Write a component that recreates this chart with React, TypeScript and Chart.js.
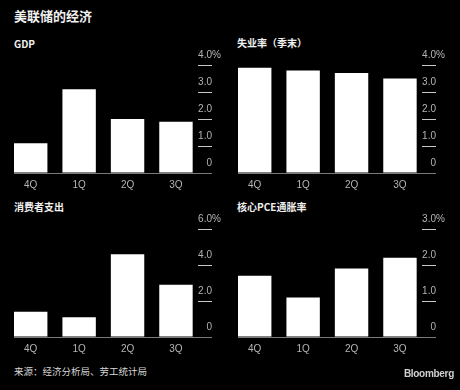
import React, { useEffect, useRef } from 'react';
import { Chart, registerables } from 'chart.js';

Chart.register(...registerables);

const categories = ['4Q', '1Q', '2Q', '3Q'];

const gdpValues = [1.1, 3.1, 2.0, 1.9];
const unemploymentValues = [3.9, 3.8, 3.7, 3.5];
const spendingValues = [1.4, 1.1, 4.6, 2.9];
const corePceValues = [1.7, 1.1, 1.9, 2.2];

const ticksOneStep = [0, 1, 2, 3, 4];
const ticksOneStepLabels = ['0', '1.0', '2.0', '3.0', '4.0'];
const ticksSpending = [0, 2, 4, 6];
const ticksSpendingLabels = ['0', '2.0', '4.0', '6.0'];
const ticksPce = [0, 1, 2, 3];
const ticksPceLabels = ['0', '1.0', '2.0', '3.0'];

const unitSuffix = '%';

const TICK_FONT = { family: '"Liberation Sans", Arial, sans-serif', size: 10 };
const TICK_COLOR = '#b4b4b4';
const CJK = '"Noto Sans CJK SC", "Noto Sans", sans-serif';

const suffixPlugin = {
  id: 'unitSuffix',
  afterDraw(chart: any) {
    const s = chart.scales.y;
    const ctx = chart.ctx;
    const y = s.getPixelForValue(s.max) - 10;
    ctx.save();
    ctx.fillStyle = TICK_COLOR;
    ctx.font = `${TICK_FONT.size}px ${TICK_FONT.family}`;
    ctx.textAlign = 'left';
    ctx.textBaseline = 'middle';
    ctx.fillText(unitSuffix, s.right, y);
    ctx.restore();
  },
};

type PanelProps = {
  values: number[];
  tickValues: number[];
  tickLabels: string[];
  left: number;
  top: number;
};

function Panel({ values, tickValues, tickLabels, left, top }: PanelProps) {
  const ref = useRef<HTMLCanvasElement | null>(null);
  useEffect(() => {
    if (!ref.current) return;
    const yMax = tickValues[tickValues.length - 1];
    const chart = new Chart(ref.current, {
      type: 'bar',
      data: {
        datasets: [
          {
            data: values.map((v, i) => ({ x: i, y: v })),
            backgroundColor: '#ffffff',
            borderWidth: 0,
            barPercentage: 0.69,
            categoryPercentage: 1,
          } as any,
        ],
      },
      options: {
        animation: false,
        responsive: false,
        maintainAspectRatio: false,
        layout: { padding: { left: 14, right: 18, top: 25, bottom: 5 } },
        plugins: { legend: { display: false }, tooltip: { enabled: false } },
        scales: {
          x: {
            type: 'linear',
            min: -0.345,
            max: 3.455,
            offset: false,
            afterBuildTicks: (s: any) => {
              s.ticks = categories.map((_, i) => ({ value: i }));
            },
            afterFit: (s: any) => {
              s.height = 22;
            },
            grid: { display: false, drawTicks: false, offset: false },
            border: { display: true, color: '#7a7a7a', width: 1 },
            ticks: {
              color: TICK_COLOR,
              font: TICK_FONT,
              padding: 6,
              maxRotation: 0,
              autoSkip: false,
              callback: (v: any) => categories[Math.round(Number(v))] ?? '',
            },
          },
          y: {
            type: 'linear',
            position: 'right',
            min: 0,
            max: yMax,
            afterBuildTicks: (s: any) => {
              s.ticks = tickValues.map((v) => ({ value: v }));
            },
            afterFit: (s: any) => {
              s.width = 14;
            },
            grid: {
              drawOnChartArea: false,
              drawTicks: true,
              tickLength: 14,
              lineWidth: 1,
              color: (c: any) => (c.tick && c.tick.value === 0 ? '#7a7a7a' : '#c8c8c8'),
            },
            border: { display: false },
            ticks: {
              color: TICK_COLOR,
              font: TICK_FONT,
              crossAlign: 'far',
              labelOffset: -10,
              callback: (_v: any, i: number) => tickLabels[i],
            },
          },
        } as any,
      },
      plugins: [suffixPlugin],
    });
    return () => chart.destroy();
  }, []);
  return (
    <canvas
      ref={ref}
      width={230}
      height={160}
      style={{ position: 'absolute', left, top, width: 230, height: 160 }}
    />
  );
}

const textBase: React.CSSProperties = {
  position: 'absolute',
  whiteSpace: 'nowrap',
  fontFamily: CJK,
};

export default function App() {
  return (
    <div
      style={{
        position: 'absolute',
        left: 0,
        top: 0,
        width: 460,
        height: 390,
        background: '#000',
        overflow: 'hidden',
      }}
    >
      <div style={{ ...textBase, left: 14, top: 8, fontSize: 13, lineHeight: '15px', fontWeight: 700, color: '#f0f0f0' }}>
        美联储的经济
      </div>
      <div style={{ ...textBase, left: 14, top: 38, fontSize: 10, lineHeight: '12px', fontWeight: 700, color: '#f0f0f0' }}>
        GDP
      </div>
      <div style={{ ...textBase, left: 237, top: 37, fontSize: 10, lineHeight: '12px', fontWeight: 700, color: '#f0f0f0' }}>
        失业率（季末）
      </div>
      <div style={{ ...textBase, left: 14, top: 201, fontSize: 10, lineHeight: '12px', fontWeight: 700, color: '#f0f0f0' }}>
        消费者支出
      </div>
      <div style={{ ...textBase, left: 237, top: 201, fontSize: 10, lineHeight: '12px', fontWeight: 700, color: '#f0f0f0' }}>
        核心PCE通胀率
      </div>

      <Panel values={gdpValues} tickValues={ticksOneStep} tickLabels={ticksOneStepLabels} left={0} top={40} />
      <Panel values={unemploymentValues} tickValues={ticksOneStep} tickLabels={ticksOneStepLabels} left={224} top={40} />
      <Panel values={spendingValues} tickValues={ticksSpending} tickLabels={ticksSpendingLabels} left={0} top={204} />
      <Panel values={corePceValues} tickValues={ticksPce} tickLabels={ticksPceLabels} left={224} top={204} />

      <div style={{ ...textBase, left: 14, top: 365, fontSize: 9.5, lineHeight: '12px', color: '#d8d8d8' }}>
        来源：经济分析局、劳工统计局
      </div>
      <div
        style={{
          ...textBase,
          right: 6,
          top: 368,
          fontSize: 10,
          lineHeight: '12px',
          fontWeight: 700,
          color: '#d0d0d0',
          fontFamily: '"Liberation Sans", Arial, sans-serif',
          letterSpacing: '-0.3px',
        }}
      >
        Bloomberg
      </div>
    </div>
  );
}
